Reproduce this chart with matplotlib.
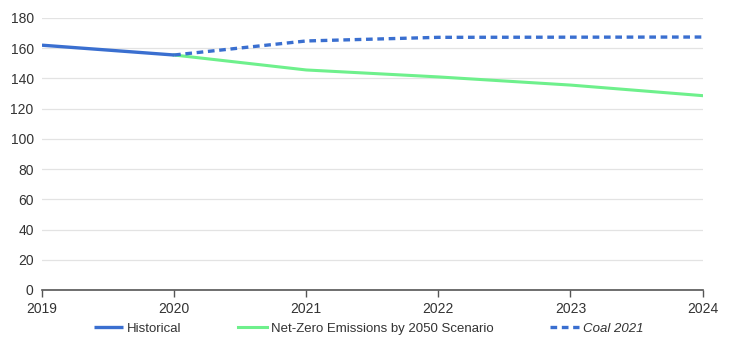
import matplotlib.pyplot as plt

plt.rcParams["font.family"] = ["Liberation Sans", "DejaVu Sans"]

hist_years = [2019, 2020]
hist_vals = [162.0, 155.5]

nze_years = [2020, 2021, 2022, 2023, 2024]
nze_vals = [155.5, 145.6, 141.0, 135.6, 128.6]

coal_years = [2020, 2021, 2022, 2023, 2024]
coal_vals = [155.5, 164.8, 167.2, 167.3, 167.4]

fig = plt.figure(figsize=(7.3, 3.46), dpi=100)
ax = fig.add_axes([0.0575, 0.162, 0.905, 0.786])

blue = "#3a6fd0"
green = "#6ef08c"

ax.plot(nze_years, nze_vals, color=green, lw=2.2, label="Net-Zero Emissions by 2050 Scenario")
ax.plot(hist_years, hist_vals, color=blue, lw=2.4, label="Historical", solid_capstyle="butt")
ax.plot(coal_years, coal_vals, color=blue, lw=2.4, ls=(0, (2.0, 1.4)), label="Coal 2021")

ax.set_xlim(2019, 2024)
ax.set_ylim(0, 180)
ax.set_yticks(range(0, 181, 20))
ax.set_xticks(range(2019, 2025))
ax.grid(axis="y", color="#e3e3e3", lw=0.9)
ax.set_axisbelow(True)
for s in ["top", "right", "left"]:
    ax.spines[s].set_visible(False)
ax.spines["bottom"].set_color("#555555")
ax.spines["bottom"].set_linewidth(1.2)
ax.tick_params(axis="y", length=0, labelsize=10, colors="#333333", pad=6)
ax.tick_params(axis="x", length=5, width=1, color="#555555", labelsize=10, labelcolor="#333333", pad=4)

handles, labels = ax.get_legend_handles_labels()
order = [1, 0, 2]
leg = fig.legend([handles[i] for i in order], [labels[i] for i in order],
                 loc="center", bbox_to_anchor=(0.505, 0.05), ncol=3, frameon=False,
                 fontsize=9.5, handlelength=2.2, columnspacing=4.3, handletextpad=0.3)
for t in leg.get_texts():
    t.set_color("#333333")
leg.get_texts()[2].set_style("italic")

fig.savefig("out.png", dpi=100)
